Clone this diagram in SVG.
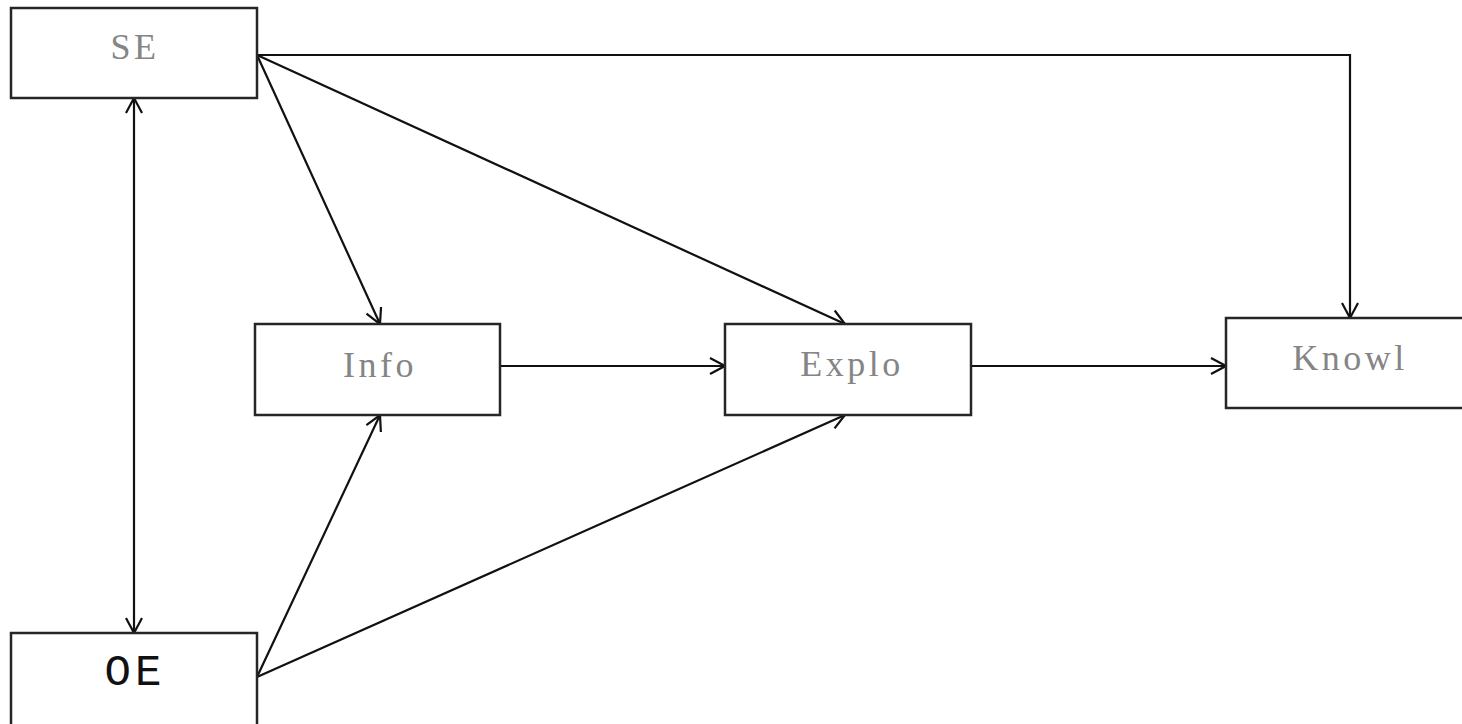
<svg xmlns="http://www.w3.org/2000/svg" width="1462" height="724" viewBox="0 0 1462 724">
<style>
.box{fill:#fff;stroke:#262626;stroke-width:2.5}
.lbl{font-family:"Liberation Serif",serif;font-size:36px;letter-spacing:3.5px;fill:#858585;text-anchor:middle}
.mono{font-family:"Liberation Mono",monospace;font-size:44px;letter-spacing:4px;fill:#111;text-anchor:middle}
.edge{fill:none;stroke:#111;stroke-width:2.2}
</style>
<defs>
<marker id="arr" markerUnits="userSpaceOnUse" markerWidth="20" markerHeight="20" viewBox="0 0 20 20" refX="18" refY="10" orient="auto-start-reverse">
<path d="M3,2 L18,10 L3,18" fill="none" stroke="#111" stroke-width="2.2"/>
</marker>
</defs>
<g id="edges">
<polyline class="edge" points="257,55 1350,55 1350,318" marker-end="url(#arr)"/>
<line class="edge" x1="257" y1="55" x2="380" y2="324" marker-end="url(#arr)"/>
<line class="edge" x1="257" y1="55" x2="845" y2="324" marker-end="url(#arr)"/>
<line class="edge" x1="134" y1="98" x2="134" y2="633" marker-start="url(#arr)" marker-end="url(#arr)"/>
<line class="edge" x1="257" y1="677" x2="380" y2="415" marker-end="url(#arr)"/>
<line class="edge" x1="257" y1="677" x2="845" y2="415" marker-end="url(#arr)"/>
<line class="edge" x1="500" y1="366" x2="725" y2="366" marker-end="url(#arr)"/>
<line class="edge" x1="971" y1="366" x2="1226" y2="366" marker-end="url(#arr)"/>
</g>
<g id="SE"><rect class="box" x="11" y="8" width="246" height="90"/><text class="lbl" x="135" y="59">SE</text></g>
<g id="OE"><rect class="box" x="11" y="633" width="246" height="110"/><text class="mono" x="135" y="685">OE</text></g>
<g id="Info"><rect class="box" x="255" y="324" width="245" height="91"/><text class="lbl" x="380" y="377">Info</text></g>
<g id="Explo"><rect class="box" x="725" y="324" width="246" height="91"/><text class="lbl" x="852" y="376">Explo</text></g>
<g id="Knowl"><rect class="box" x="1226" y="318" width="260" height="90"/><text class="lbl" x="1350" y="370">Knowl</text></g>
</svg>
